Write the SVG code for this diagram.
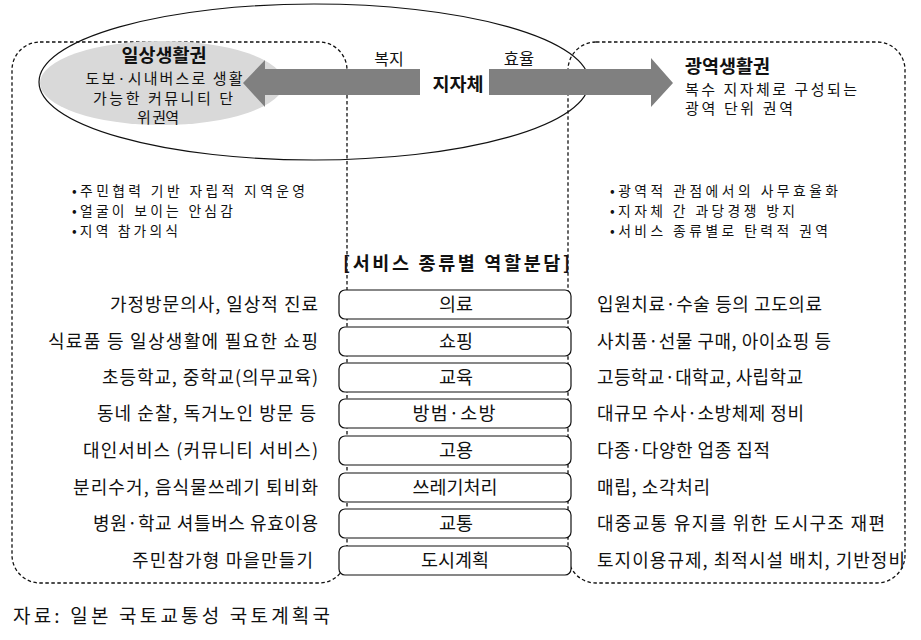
<svg xmlns="http://www.w3.org/2000/svg" width="921" height="640" viewBox="0 0 921 640">
<style>
text{font-family:"Noto Sans CJK KR","Noto Sans",sans-serif;fill:#111}
.dash{fill:none;stroke:#111;stroke-width:1.3;stroke-dasharray:3.5 2.5}
.box{fill:#fff;stroke:#111;stroke-width:1.2}
.t16{font-size:13.8px}
.b{font-weight:bold}
.lab{font-size:18.5px;text-anchor:middle}
.lt{font-size:18px;text-anchor:end}
.rt{font-size:18px}
.arrow{fill:#808080}
</style>
<rect width="921" height="640" fill="#fff"/>
<g id="region-local"><rect class="dash" x="12" y="42" width="335" height="541" rx="28"/></g>
<g id="region-wide"><rect class="dash" x="568" y="42" width="337" height="541" rx="28"/></g>
<g id="jurisdiction"><ellipse cx="314" cy="82" rx="275" ry="78" fill="none" stroke="#111" stroke-width="1.2"/></g>
<g id="daily-zone">
<ellipse cx="162" cy="83" rx="122" ry="42" fill="#d9d9d9"/>
<text class="b" x="164" y="62" font-size="18.5" text-anchor="middle">일상생활권</text>
<text font-size="15" text-anchor="middle"><tspan x="164" y="84" textLength="157">도보·시내버스로 생활</tspan><tspan x="163" y="104" textLength="140">가능한 커뮤니티 단</tspan><tspan x="158" y="123" textLength="42">위 권역</tspan></text>
</g>
<g id="connectors">
<polygon class="arrow" points="243,83 265,60 265,69 420,69 420,95 265,95 265,107"/>
<polygon class="arrow" points="673,83 651,58 651,69 489,69 489,95 651,95 651,107"/>
</g>
<g id="jichi">
<text class="b" x="458" y="91" font-size="18.5" text-anchor="middle">지자체</text>
<text x="389" y="65" font-size="16" text-anchor="middle">복지</text>
<text x="519" y="65" font-size="16.5" text-anchor="middle">효율</text>
</g>
<g id="wide-zone">
<text class="b" x="685" y="73" font-size="18.5">광역생활권</text>
<text font-size="15"><tspan x="685" y="95" textLength="172">복수 지자체로 구성되는</tspan><tspan x="685" y="114" textLength="108">광역 단위 권역</tspan></text>
</g>
<g id="local-bullets">
<text class="t16"><tspan x="72" y="196" textLength="233">•주민협력 기반 자립적 지역운영</tspan><tspan x="72" y="216" textLength="161">•얼굴이 보이는 안심감</tspan><tspan x="72" y="236" textLength="106">•지역 참가의식</tspan></text>
</g>
<g id="wide-bullets">
<text class="t16"><tspan x="610" y="196" textLength="228">•광역적 관점에서의 사무효율화</tspan><tspan x="610" y="216" textLength="185">•지자체 간 과당경쟁 방지</tspan><tspan x="610" y="236" textLength="218">•서비스 종류별로 탄력적 권역</tspan></text>
</g>
<text class="b" x="343" y="270" font-size="18.5" textLength="227">[서비스 종류별 역할분담]</text>
<g id="svc-1"><rect class="box" x="339" y="290" width="232" height="29" rx="6"/><text class="lab" x="456" y="311">의료</text><text class="lt" x="318" y="311" textLength="208">가정방문의사, 일상적 진료</text><text class="rt" x="597" y="311" textLength="225">입원치료·수술 등의 고도의료</text></g>
<g id="svc-2"><rect class="box" x="339" y="327" width="232" height="29" rx="6"/><text class="lab" x="456" y="348">쇼핑</text><text class="lt" x="318" y="348" textLength="270">식료품 등 일상생활에 필요한 쇼핑</text><text class="rt" x="597" y="348" textLength="234">사치품·선물 구매, 아이쇼핑 등</text></g>
<g id="svc-3"><rect class="box" x="339" y="363" width="232" height="29" rx="6"/><text class="lab" x="456" y="384">교육</text><text class="lt" x="318" y="384" textLength="216">초등학교, 중학교(의무교육)</text><text class="rt" x="597" y="384" textLength="206">고등학교·대학교, 사립학교</text></g>
<g id="svc-4"><rect class="box" x="339" y="399" width="232" height="29" rx="6"/><text class="lab" x="454" y="420" textLength="83">방범·소방</text><text class="lt" x="316" y="420" textLength="219">동네 순찰, 독거노인 방문 등</text><text class="rt" x="597" y="420" textLength="207">대규모 수사·소방체제 정비</text></g>
<g id="svc-5"><rect class="box" x="339" y="436" width="232" height="29" rx="6"/><text class="lab" x="456" y="457">고용</text><text class="lt" x="318" y="457" textLength="235">대인서비스 (커뮤니티 서비스)</text><text class="rt" x="597" y="457" textLength="173">다종·다양한 업종 집적</text></g>
<g id="svc-6"><rect class="box" x="339" y="473" width="232" height="29" rx="6"/><text class="lab" x="455" y="494">쓰레기처리</text><text class="lt" x="318" y="494" textLength="245">분리수거, 음식물쓰레기 퇴비화</text><text class="rt" x="597" y="494" textLength="113">매립, 소각처리</text></g>
<g id="svc-7"><rect class="box" x="339" y="509" width="232" height="29" rx="6"/><text class="lab" x="456" y="530">교통</text><text class="lt" x="318" y="530" textLength="225">병원·학교 셔틀버스 유효이용</text><text class="rt" x="597" y="530" textLength="288">대중교통 유지를 위한 도시구조 재편</text></g>
<g id="svc-8"><rect class="box" x="339" y="546" width="232" height="29" rx="6"/><text class="lab" x="455" y="567">도시계획</text><text class="lt" x="313" y="567" textLength="181">주민참가형 마을만들기</text><text class="rt" x="597" y="567" textLength="308">토지이용규제, 최적시설 배치, 기반정비</text></g>
<text x="13" y="623" font-size="19" fill="#222" textLength="317">자료:  일본  국토교통성  국토계획국</text>
</svg>
